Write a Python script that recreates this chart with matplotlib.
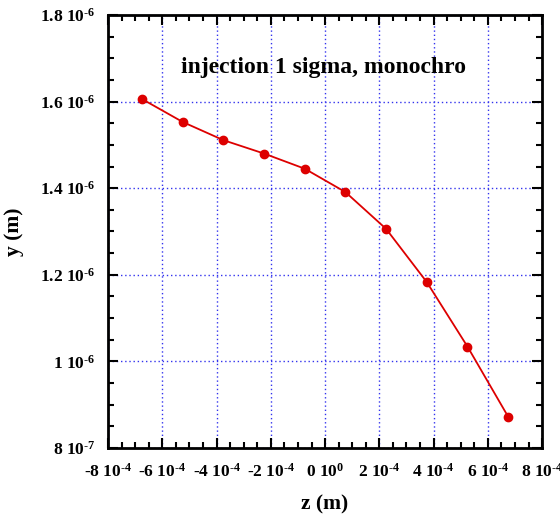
import matplotlib as mpl
mpl.use("Agg")
import matplotlib.pyplot as plt
from matplotlib.ticker import MultipleLocator, AutoMinorLocator, FuncFormatter
import numpy as np

# Trajectory points (z, y) in metres
z_pos = [-6.75e-4, -5.25e-4, -3.75e-4, -2.25e-4, -0.75e-4,
         0.75e-4, 2.25e-4, 3.75e-4, 5.25e-4, 6.75e-4]
y_pos = [1.606e-6, 1.553e-6, 1.511e-6, 1.480e-6, 1.445e-6,
         1.391e-6, 1.306e-6, 1.183e-6, 1.034e-6, 0.872e-6]

title_text = "injection 1 sigma, monochro"
x_label = "z (m)"
y_label = "y (m)"

#-------------------------------------------------------------------------------

mpl.rcParams["mathtext.fontset"] = "custom"
mpl.rcParams["mathtext.rm"] = "Liberation Serif:bold"
mpl.rcParams["mathtext.bf"] = "Liberation Serif:bold"
mpl.rcParams["mathtext.it"] = "Liberation Serif:bold"
mpl.rcParams["font.family"] = "Liberation Serif"
mpl.rcParams["font.weight"] = "bold"
mpl.rcParams["axes.unicode_minus"] = False


def gnuplot_fmt(val, pos):
  # gnuplot style "mantissa 10^exp" labels
  if abs(val) < 1e-15:
    return r"0 10$^{\text{0}}$"
  exp = int(np.floor(np.log10(abs(val)) + 1e-9))
  mant = val / 10**exp
  mant_str = "{:.1f}".format(mant).rstrip("0").rstrip(".")
  return r"%s 10$^{\text{%d}}$" % (mant_str, exp)


fig = plt.figure(figsize=(5.6, 5.19), dpi=100)
ax = fig.add_axes([0.193, 0.137, 0.775, 0.834])

ax.plot(z_pos, y_pos, color="#dd0000", lw=1.3, marker="o", ms=6, mec="#dd0000")

ax.set_xlim(-8e-4, 8e-4)
ax.set_ylim(8e-7, 1.8e-6)
ax.xaxis.set_major_locator(MultipleLocator(2e-4))
ax.yaxis.set_major_locator(MultipleLocator(2e-7))
ax.xaxis.set_minor_locator(AutoMinorLocator(4))
ax.yaxis.set_minor_locator(AutoMinorLocator(4))
ax.xaxis.set_major_formatter(FuncFormatter(gnuplot_fmt))
ax.yaxis.set_major_formatter(FuncFormatter(gnuplot_fmt))

ax.tick_params(which="both", direction="in", top=True, right=True, width=1.5)
ax.tick_params(which="major", length=7, labelsize=12.5)
ax.tick_params(axis="x", which="major", pad=11)
ax.tick_params(axis="y", which="major", pad=9)
ax.tick_params(which="minor", length=4)
for s in ax.spines.values():
  s.set_linewidth(2)

ax.grid(True, which="major", color="#3333ee", ls=(0, (1, 2)), lw=1)

ax.text(-0.05e-4, 1.678e-6, title_text, ha="center", va="center", fontsize=17, fontweight="bold")
ax.set_xlabel(x_label, fontsize=15.5, fontweight="bold", labelpad=10)
ax.set_ylabel(y_label, fontsize=15.5, fontweight="bold", labelpad=12)

fig.savefig("out.png", dpi=100)
